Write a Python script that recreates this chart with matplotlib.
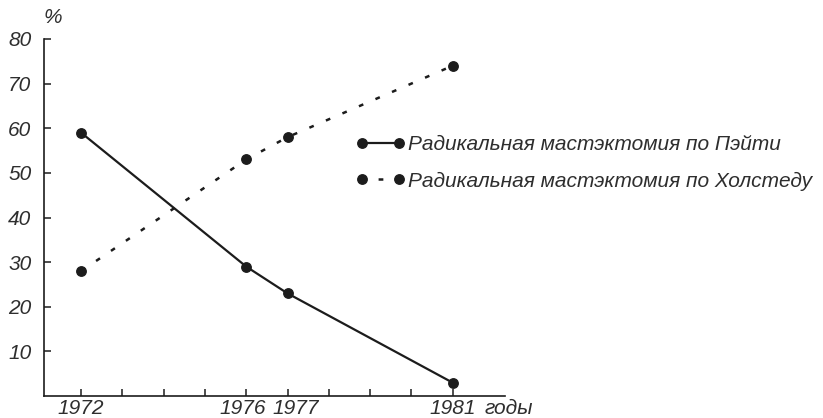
import matplotlib.pyplot as plt
from matplotlib.lines import Line2D
from matplotlib.legend_handler import HandlerLine2D
from matplotlib.transforms import ScaledTranslation

plt.rcParams['font.family'] = ['Liberation Sans', 'DejaVu Sans']
plt.rcParams['font.style'] = 'italic'

# survey years and share of each operation, %
years = [1972, 1976, 1977, 1981]
patey = [59, 29, 23, 3]
halsted = [28, 53, 58, 74]

tick_years = list(range(1972, 1982))
labeled_years = ['1972', '1976', '1977', '1981']
y_ticks = [10, 20, 30, 40, 50, 60, 70, 80]

label_patey = 'Радикальная мастэктомия по Пэйти'
label_halsted = 'Радикальная мастэктомия по Холстеду'

ink = '#1c1c1c'
txt = '#2e2e2e'
dots = (0, (1.9, 5.3))
fs = 15

fig = plt.figure(figsize=(8.23, 4.18), dpi=100)
ax = fig.add_axes([44 / 823, 22 / 418, 461 / 823, 357 / 418])

ax.plot(years, patey, color=ink, lw=1.6, marker='o', ms=6.8)
ax.plot(years, halsted, color=ink, lw=1.8, ls=dots, marker='o', ms=6.8)

ax.set_xlim(1971.10, 1982.27)
ax.set_ylim(0, 80)

ax.set_xticks(tick_years)
ax.set_xticklabels([str(y) if str(y) in labeled_years else '' for y in tick_years])
ax.set_yticks(y_ticks)

for side in ['top', 'right']:
    ax.spines[side].set_visible(False)
for side in ['left', 'bottom']:
    ax.spines[side].set_color(ink)
    ax.spines[side].set_linewidth(1.2)

ax.tick_params(axis='both', direction='in', length=5, width=1.1, color=ink,
               labelsize=fs, labelcolor=txt)
ax.tick_params(axis='y', pad=9)
ax.tick_params(axis='x', pad=2.5)

# push 1976 and 1977 apart so they don't collide
ticks = ax.xaxis.get_major_ticks()
for i, dx in [(4, -0.04), (5, 0.08)]:
    lbl = ticks[i].label1
    lbl.set_transform(lbl.get_transform() + ScaledTranslation(dx, 0, fig.dpi_scale_trans))

ax.text(0.956, -0.0098, 'годы', transform=ax.transAxes, fontsize=fs, color=txt,
        ha='left', va='top')
ax.text(0.0, 1.035, '%', transform=ax.transAxes, fontsize=fs, color=txt,
        ha='left', va='bottom')

h1 = Line2D([], [], color=ink, lw=1.6, marker='o', ms=6.8)
h2 = Line2D([], [], color=ink, lw=1.8, ls=(0.46, (1.9, 5.0)), marker='o', ms=6.8)
fig.legend([h1, h2], [label_patey, label_halsted], loc='upper left',
           bbox_to_anchor=(362 / 823, 1 - 135 / 418), frameon=False,
           fontsize=fs, labelcolor=txt, handlelength=1.78, handletextpad=0.45,
           borderpad=0, borderaxespad=0, labelspacing=0.85, numpoints=2,
           handler_map={h1: HandlerLine2D(marker_pad=0), h2: HandlerLine2D(marker_pad=0)})

fig.savefig('out.png', dpi=100)
